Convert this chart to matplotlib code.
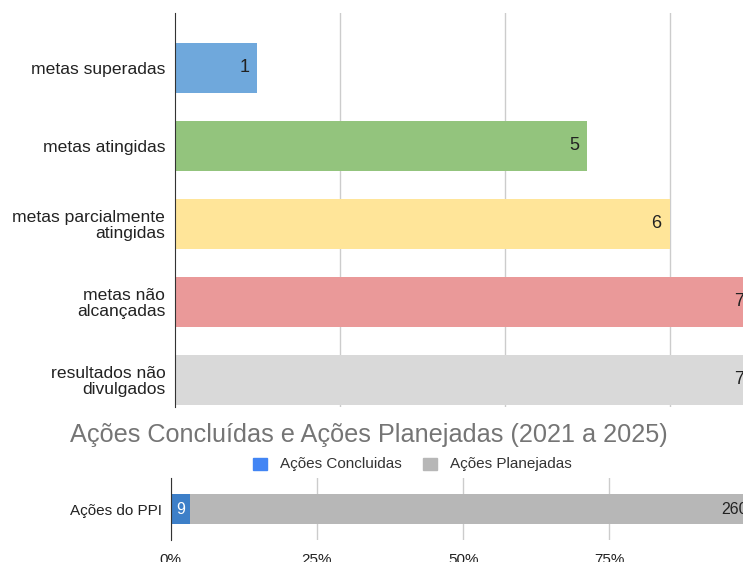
import matplotlib.pyplot as plt
from matplotlib.patches import Rectangle

plt.rcParams['font.family'] = ['Liberation Sans', 'DejaVu Sans']

# dados - metas
categorias = ['metas superadas', 'metas atingidas', 'metas parcialmente\natingidas',
              'metas não\nalcançadas', 'resultados não\ndivulgados']
valores = [1, 5, 6, 7, 7]
cores = ['#6fa8dc', '#93c47d', '#ffe599', '#ea9999', '#d9d9d9']

# dados - acoes do PPI
titulo2 = 'Ações Concluídas e Ações Planejadas (2021 a 2025)'
serie_nomes = ['Ações Concluidas', 'Ações Planejadas']
acoes_concluidas = 9
acoes_planejadas = 260
rotulo_barra = 'Ações do PPI'
ticks_pct = [0, 0.25, 0.5, 0.75]
ticks_lbl = ['0%', '25%', '50%', '75%']

W, H = 743, 562
fig = plt.figure(figsize=(W / 100, H / 100), dpi=100)

# ---- grafico de cima
ax1 = fig.add_axes([175 / W, 1 - 407 / H, 577 / W, 394 / H])
ypos = list(range(len(categorias)))
ax1.barh(ypos, valores, height=0.64, color=cores, zorder=2)
for y, v in zip(ypos, valores):
    ax1.text(v - 0.095, y, str(v), ha='right', va='center', fontsize=13, color='#222222', zorder=3)
ax1.set_xlim(0, 7)
ax1.set_ylim(4.346, -0.698)
ax1.set_yticks(ypos)
ax1.set_yticklabels(categorias, fontsize=12.6, color='#222222', linespacing=1.05)
ax1.set_xticks([2, 4, 6])
ax1.tick_params(axis='both', length=0)
ax1.tick_params(axis='y', pad=7)
ax1.tick_params(axis='x', labelbottom=False)
ax1.grid(axis='x', color='#cccccc', linewidth=1, zorder=0)
for s in ['top', 'right', 'bottom']:
    ax1.spines[s].set_visible(False)
ax1.spines['left'].set_color('#333333')
ax1.spines['left'].set_zorder(4)

# ---- titulo e legenda
fig.text(368.5 / W, 1 - 442 / H, titulo2, ha='center', va='baseline', fontsize=18.2, color='#757575')
leg_cores = ['#4285f4', '#b7b7b7']
leg_x = [253, 423]
for nome, c, x in zip(serie_nomes, leg_cores, leg_x):
    fig.patches.append(Rectangle((x / W, 1 - 470 / H), 14 / W, 12 / H, transform=fig.transFigure,
                                 color=c, figure=fig))
    fig.text((x + 27) / W, 1 - 464 / H, nome, ha='left', va='center', fontsize=11, color='#333333')

# ---- grafico de baixo
ax2 = fig.add_axes([170.7 / W, 1 - 540 / H, 585 / W, 62 / H])
total = acoes_concluidas + acoes_planejadas
p1 = acoes_concluidas / total
p2 = acoes_planejadas / total
ax2.barh([0], [p1], height=0.468, color='#3d7fc8', zorder=2)
ax2.barh([0], [p2], left=[p1], height=0.468, color='#b7b7b7', zorder=2)
ax2.text(p1 / 2, 0, str(acoes_concluidas), ha='center', va='center', fontsize=11.5, color='white', zorder=3)
ax2.text(1 - 0.013, 0, str(acoes_planejadas), ha='right', va='center', fontsize=11.5, color='#222222', zorder=3)
ax2.set_xlim(0, 1)
ax2.set_ylim(-0.5, 0.5)
ax2.set_yticks([0])
ax2.set_yticklabels([rotulo_barra], fontsize=11, color='#222222')
ax2.set_xticks(ticks_pct)
ax2.set_xticklabels(ticks_lbl, fontsize=11, color='#222222')
ax2.tick_params(axis='both', length=0)
ax2.tick_params(axis='y', pad=6)
ax2.tick_params(axis='x', pad=9)
ax2.grid(axis='x', color='#cccccc', linewidth=1, zorder=0)
for s in ['top', 'right', 'bottom']:
    ax2.spines[s].set_visible(False)
ax2.spines['left'].set_color('#333333')
ax2.spines['left'].set_zorder(4)

fig.savefig('out.png', dpi=100)
